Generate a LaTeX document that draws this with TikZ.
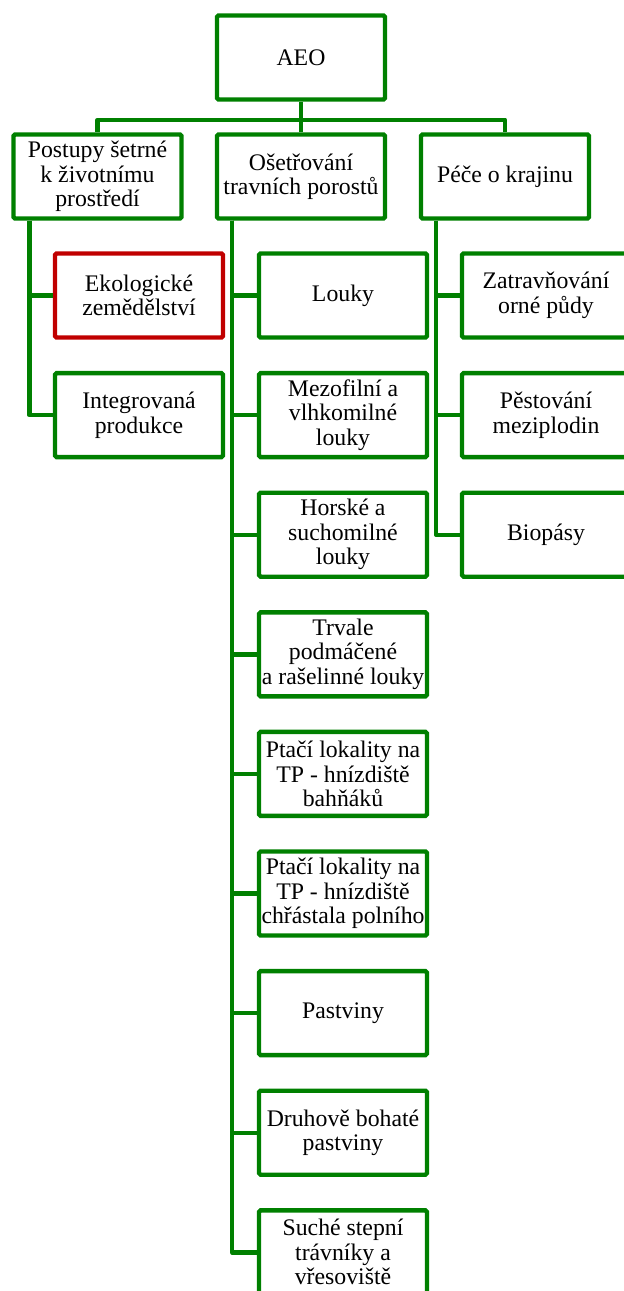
\documentclass[tikz,border=0pt]{standalone}
\usepackage{fontspec}
\setmainfont{Liberation Serif}
\usetikzlibrary{calc}

\definecolor{boxgreen}{RGB}{0,128,0}
\definecolor{boxred}{RGB}{192,0,0}

\tikzset{
    box/.style={rectangle, draw=boxgreen, line width=0.11cm, rounded corners=0.04cm,
        minimum width=4.2cm, minimum height=2.1cm, inner sep=0pt, align=center,
        font=\fontsize{16.9pt}{17.4pt}\selectfont},
    redbox/.style={box, draw=boxred},
    link/.style={draw=boxgreen, line width=0.11cm, line join=round}
}

\begin{document}
\begin{tikzpicture}
    \useasboundingbox (0,0) rectangle (15.6,-32.275);
    \clip (0,0) rectangle (15.6,-32.275);

    \node (aeo) [box] at (7.525,-1.4375) {AEO};

    \node (postupy) [box] at (2.4375,-4.4125) {Postupy šetrné\\k životnímu\\prostředí};
    \node (osetr) [box] at (7.525,-4.4125) {Ošetřování\\travních porostů};
    \node (pece) [box] at (12.625,-4.4125) {Péče o krajinu};

    \node (eko) [redbox] at (3.475,-7.3875) {Ekologické\\zemědělství};
    \node (integ) [box] at (3.475,-10.3775) {Integrovaná\\produkce};

    \node (louky) [box] at (8.575,-7.3875) {Louky};
    \node (mezo) [box] at (8.575,-10.3775) {Mezofilní a\\vlhkomilné\\louky};
    \node (horske) [box] at (8.575,-13.3675) {Horské a\\suchomilné\\louky};
    \node (trvale) [box] at (8.575,-16.3575) {Trvale\\podmáčené\\a rašelinné louky};
    \node (bahn) [box] at (8.575,-19.3475) {Ptačí lokality na\\TP - hnízdiště\\bahňáků};
    \node (chrast) [box] at (8.575,-22.3375) {Ptačí lokality na\\TP - hnízdiště\\chřástala polního};
    \node (pastv) [box] at (8.575,-25.3275) {Pastviny};
    \node (druh) [box] at (8.575,-28.3175) {Druhově bohaté\\pastviny};
    \node (suche) [box] at (8.575,-31.3075) {Suché stepní\\trávníky a\\vřesoviště};

    \node (zatr) [box] at (13.65,-7.3875) {Zatravňování\\orné půdy};
    \node (mezi) [box] at (13.65,-10.3775) {Pěstování\\meziplodin};
    \node (biop) [box] at (13.65,-13.3675) {Biopásy};

    % top level
    \draw[link] (aeo.south) -- ++(0,-0.45) coordinate (hub);
    \draw[link] (hub) -| (postupy.north);
    \draw[link] (hub) -| (pece.north);
    \draw[link] (hub) -- (osetr.north);

    % branches
    \foreach \n in {eko,integ}
        \draw[link] (postupy.south west) ++(0.45,0) |- (\n.west);
    \foreach \n in {louky,mezo,horske,trvale,bahn,chrast,pastv,druh,suche}
        \draw[link] (osetr.south west) ++(0.43,0) |- (\n.west);
    \foreach \n in {zatr,mezi,biop}
        \draw[link] (pece.south west) ++(0.43,0) |- (\n.west);
\end{tikzpicture}
\end{document}
